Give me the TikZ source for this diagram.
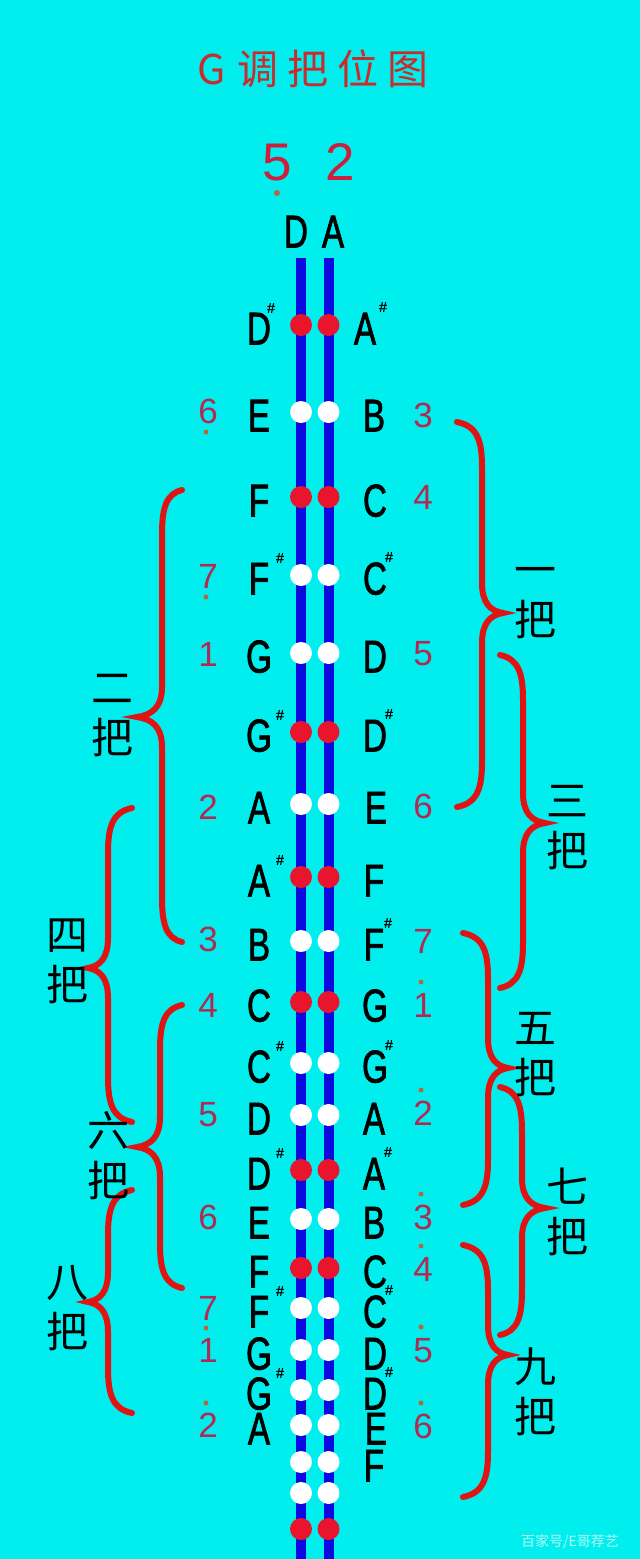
\documentclass[tikz,border=0pt]{standalone}
\usepackage{fontspec}
\setmainfont{Liberation Sans}
\newfontfamily\notefont[FakeStretch=0.72,FakeBold=1.6]{Liberation Sans}
\newfontfamily\sharpfont[FakeBold=1]{Liberation Sans}
\newfontfamily\cjkfont{Noto Sans CJK SC}
\definecolor{bg}{RGB}{0,238,238}
\definecolor{strblue}{RGB}{10,10,225}
\definecolor{fretred}{RGB}{235,20,45}
\definecolor{bracered}{RGB}{225,20,20}
\definecolor{numred}{RGB}{178,42,82}
\definecolor{topred}{RGB}{205,30,60}
\definecolor{titlered}{RGB}{200,45,45}
\definecolor{dotbrown}{RGB}{180,105,60}
\newcommand{\mybrace}[6]{%
 \draw[bracestyle] (#1,#4) .. controls ({#1+0.8*(#2-#1)},{#4+4}) and (#2,{#4+18}) .. (#2,{#4+45})
 -- (#2,{#5-30}) .. controls (#2,{#5-10}) and ({#2+0.4*(#3-#2)},{#5-2}) .. (#3,#5)
 .. controls ({#2+0.4*(#3-#2)},{#5+2}) and (#2,{#5+10}) .. (#2,{#5+30})
 -- (#2,{#6-45}) .. controls (#2,{#6-18}) and ({#1+0.8*(#2-#1)},{#6-4}) .. (#1,#6);}
\begin{document}
\begin{tikzpicture}[x=1pt,y=-1pt,
  note/.style={font=\notefont\fontsize{46}{46}\selectfont, inner sep=0, text height=33pt, text depth=0pt},
  sharp/.style={font=\sharpfont\fontsize{14}{14}\selectfont, inner sep=0},
  num/.style={font=\fontsize{35}{35}\selectfont, text=numred, inner sep=0, text height=25pt, text depth=0pt},
  jdot/.style={fill=dotbrown, circle, inner sep=0, minimum size=5pt},
  fret/.style={circle, inner sep=0, minimum size=22pt},
  bracestyle/.style={draw=bracered, line width=6pt, line cap=round},
  posn/.style={font=\cjkfont\fontsize{42}{50}\selectfont, align=center, inner sep=0},
  string/.style={draw=strblue, line width=10pt}]
\useasboundingbox (0,0) rectangle (640,1559);
\fill[bg] (0,0) rectangle (640,1559);
% title
\node[font=\cjkfont\fontsize{41}{41}\selectfont, text=titlered] (title) at (313,69) {G\kern12pt 调\kern9pt 把\kern9pt 位\kern9pt 图};
% open strings
\node[font=\fontsize{53}{53}\selectfont, text=topred, inner sep=0, text height=38pt, text depth=0pt] (t5) at (277,161) {5};
\node[font=\fontsize{53}{53}\selectfont, text=topred, inner sep=0, text height=38pt, text depth=0pt] (t2) at (340,161) {2};
\node[jdot, minimum size=6pt] (t5dot) at (277,193) {};
\node[note] (openD) at (296,231) {D};
\node[note] (openA) at (333,231) {A};
% strings
\coordinate (s1top) at (301,258);
\coordinate (s1bot) at (301,1559);
\coordinate (s2top) at (328.5,258);
\coordinate (s2bot) at (328.5,1559);
\draw[string] (s1top) -- (s1bot);
\draw[string] (s2top) -- (s2bot);
% finger dots
\foreach \y/\c [count=\i] in {325/fretred,412/white,497/fretred,575/white,653/white,732/fretred,804/white,877/fretred,941/white,1002/fretred,1063/white,1115/white,1170/fretred,1219/white,1268/fretred,1308/white,1350/white,1390/white,1425/white,1462/white,1493/white,1529/fretred}{
  \node[fret, fill=\c] (fl\i) at (301,\y) {};
  \node[fret, fill=\c] (fr\i) at (328.5,\y) {};
}
% left note names
\foreach \y/\t/\s [count=\i] in {325/D/12,412/E/0,497/F/0,575/F/21,653/G/0,732/G/21,804/A/0,877/A/21,941/B/0,1002/C/0,1063/C/21,1115/D/0,1170/D/21,1219/E/0,1268/F/0,1308/F/21,1350/G/0,1390/G/21,1425/A/0}{
  \node[note] (nl\i) at (259,\y+3) {\t};
  \ifnum\s>0 \node[sharp] (shl\i) at ([xshift=\s pt, yshift=20pt]nl\i.center) {\#}; \fi
}
% right note names
\foreach \y/\t/\s/\x [count=\i] in {325/A/18/365,412/B/0/374,497/C/0/375,575/C/14/375,653/D/0/375,732/D/14/375,804/E/0/376,877/F/0/374,941/F/14/374,1002/G/0/375,1063/G/14/375,1115/A/0/374,1170/A/14/374,1219/B/0/374,1268/C/0/375,1308/C/14/375,1350/D/0/375,1390/D/14/375,1425/E/0/376,1462/F/0/374}{
  \node[note] (nr\i) at (\x,\y+3) {\t};
  \ifnum\s>0 \node[sharp] (shr\i) at ([xshift=\s pt, yshift=21pt]nr\i.center) {\#}; \fi
}
% left jianpu numbers (dot: 0 none, 1 below, 2 above)
\foreach \y/\d/\p [count=\i] in {411/6/1,576/7/1,654/1/0,807/2/0,939/3/0,1005/4/0,1114/5/0,1217/6/0,1308/7/0,1350/1/2,1425/2/2}{
  \node[num] (jl\i) at (208,\y) {\d};
  \ifnum\p=1 \node[jdot] (jld\i) at (206,\y+21) {}; \fi
  \ifnum\p=2 \node[jdot] (jld\i) at (206,\y-22) {}; \fi
}
% right jianpu numbers
\foreach \y/\d/\p [count=\i] in {415/3/0,497/4/0,653/5/0,806/6/0,941/7/0,1005/1/2,1113/2/2,1217/3/2,1269/4/2,1350/5/2,1426/6/2}{
  \node[num] (jr\i) at (423,\y) {\d};
  \ifnum\p=2 \node[jdot] (jrd\i) at (421,\y-23) {}; \fi
}
% braces (right)
\mybrace{457}{482}{503}{422}{613}{807}
\mybrace{500}{523}{545}{655}{823}{988}
\mybrace{463}{488}{508}{933}{1068}{1205}
\mybrace{500}{522}{545}{1087}{1208}{1335}
\mybrace{463}{488}{508}{1245}{1355}{1497}
% braces (left)
\mybrace{182}{162}{137}{490}{717}{942}
\mybrace{132}{108}{88}{808}{968}{1122}
\mybrace{182}{160}{137}{1005}{1147}{1288}
\mybrace{132}{108}{88}{1190}{1302}{1413}
% position labels
\node[posn] (p1) at (535,603) {一\\把};
\node[posn] (p3) at (567,828) {三\\把};
\node[posn] (p5) at (535,1055) {五\\把};
\node[posn] (p7) at (567,1212) {七\\把};
\node[posn] (p9) at (535,1392) {九\\把};
\node[posn] (p2) at (112,716) {二\\把};
\node[posn] (p4) at (67,961) {四\\把};
\node[posn] (p6) at (108,1156) {六\\把};
\node[posn] (p8) at (67,1308) {八\\把};
% watermark
\node[font=\cjkfont\fontsize{14}{14}\selectfont, text=white, opacity=0.7] (wm) at (570,1542) {百家号/E哥荐艺};
\end{tikzpicture}
\end{document}
